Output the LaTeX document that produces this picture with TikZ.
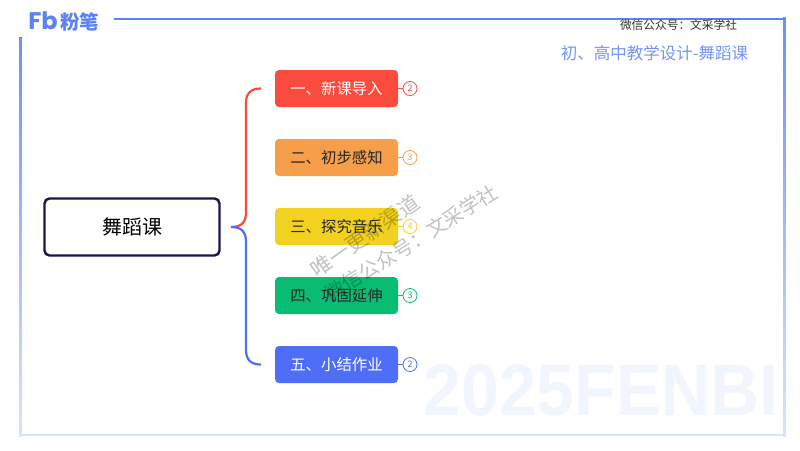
\documentclass[tikz,border=0pt]{standalone}
\usepackage{fontspec}
\setmainfont{Noto Sans CJK SC}
\newfontfamily\logofont{Poppins}
\newfontfamily\markfont{Liberation Sans}
\definecolor{fbblue}{HTML}{5B83F5}
\definecolor{fbpale}{HTML}{D8E4FD}
\definecolor{lessonred}{HTML}{FB4A3E}
\definecolor{lessonorange}{HTML}{F79E4B}
\definecolor{lessonyellow}{HTML}{F3D21F}
\definecolor{lessongreen}{HTML}{08BD72}
\definecolor{lessonblue}{HTML}{4F6EF7}
\definecolor{rootline}{HTML}{17154F}
\tikzset{
  lesson/.style={rounded corners=4pt,minimum width=123pt,minimum height=37pt,inner sep=0pt,font=\fontsize{15.4}{15.4}\selectfont},
  badge/.style={draw,circle,fill=white,minimum size=14pt,inner sep=0pt,line width=0.8pt,font=\fontsize{9}{9}\selectfont},
  stamp/.style={text=black,text opacity=0.24,inner sep=0pt}
}
\begin{document}
\begin{tikzpicture}[x=1pt,y=-1pt]
  \useasboundingbox (0,0) rectangle (800,450);
  \fill[white] (0,0) rectangle (800,450);
  % frame
  \fill[top color=fbblue!90,bottom color=fbpale] (19,37) rectangle (21.5,436);
  \fill[top color=fbblue!90,bottom color=fbpale] (783,17.5) rectangle (785.5,436);
  \fill[fbpale] (19,433.5) rectangle (785.5,436);
  \fill[fbblue] (114,17.5) rectangle (785.5,20);
  \node[inner sep=0pt,text=fbblue,font=\logofont\bfseries\fontsize{24}{24}\selectfont] (logoa) at (43,21) {Fb};
  \node[inner sep=0pt,text=fbblue,font=\bfseries\fontsize{19.5}{19.5}\selectfont] (logob) at (79.5,22) {粉笔};
  \node[inner sep=0pt,text=black!80,font=\fontsize{11.7}{11.7}\selectfont] (account) at (678.5,25) {微信公众号：文采学社};
  \node[inner sep=0pt,text=fbblue!85,font=\fontsize{16.5}{16.5}\selectfont] (title) at (654.5,53) {初、高中教学设计-舞蹈课};
  \node[inner sep=0pt,xscale=0.93,text=fbpale!35,font=\markfont\bfseries\fontsize{73}{73}\selectfont] (year) at (601,390) {2025FENBI};
  % root and lessons
  \node[draw=rootline,line width=2.4pt,rounded corners=5pt,minimum width=175pt,minimum height=57pt,inner sep=0pt,font=\fontsize{20}{20}\selectfont] (root) at (132,227) {舞蹈课};
  \node[lesson,fill=lessonred,text=white] (one) at (336.5,88.5) {一、新课导入};
  \node[lesson,fill=lessonorange,text=black!85] (two) at (336.5,157.5) {二、初步感知};
  \node[lesson,fill=lessonyellow,text=black!85] (three) at (336.5,226.5) {三、探究音乐};
  \node[lesson,fill=lessongreen,text=black!85] (four) at (336.5,295.5) {四、巩固延伸};
  \node[lesson,fill=lessonblue,text=white] (five) at (336.5,364.5) {五、小结作业};
  \node[badge,draw=lessonred,text=lessonred] (onecount) at (410,88.5) {2};
  \node[badge,draw=lessonorange,text=lessonorange] (twocount) at (410,157.5) {3};
  \node[badge,draw=lessonyellow,text=lessonyellow] (threecount) at (410,226.5) {4};
  \node[badge,draw=lessongreen,text=lessongreen] (fourcount) at (410,295.5) {3};
  \node[badge,draw=lessonblue,text=lessonblue] (fivecount) at (410,364.5) {2};
  % connectors
  \coordinate (fork) at (231,227);
  \coordinate (redend) at (261,88.5);
  \coordinate (blueend) at (261,364.5);
  \draw[lessonred,line width=2.2pt] (fork) .. controls (242,227) and (246,222) .. (246,212) -- (246,103) .. controls (246,93) and (251,88.5) .. (redend);
  \draw[lessonblue,line width=2.2pt] (fork) .. controls (242,227) and (246,232) .. (246,242) -- (246,350) .. controls (246,360) and (251,364.5) .. (blueend);
  \draw[lessonred] (one) -- (onecount);
  \draw[lessonorange] (two) -- (twocount);
  \draw[lessonyellow] (three) -- (threecount);
  \draw[lessongreen] (four) -- (fourcount);
  \draw[lessonblue] (five) -- (fivecount);
  % stamps
  \node[stamp,rotate=35,font=\fontsize{21}{21}\selectfont] (stampa) at (365,236) {唯一更新渠道};
  \node[stamp,rotate=32,font=\fontsize{20}{20}\selectfont] (stampb) at (411,243) {微信公众号：文采学社};
\end{tikzpicture}
\end{document}
